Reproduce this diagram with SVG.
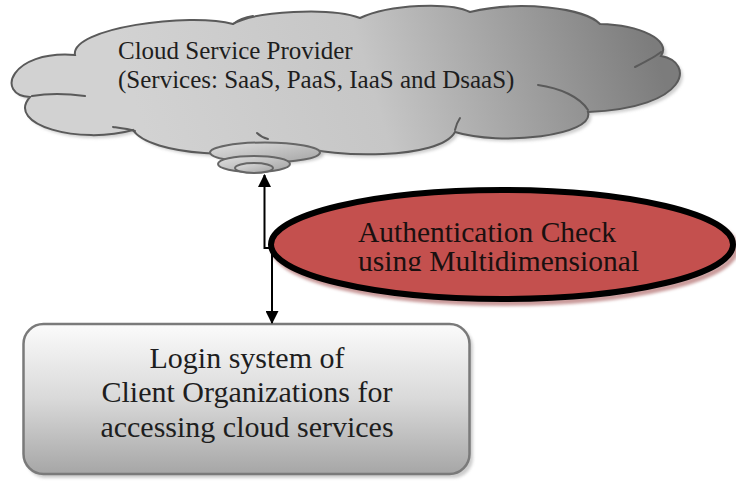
<svg xmlns="http://www.w3.org/2000/svg" width="736" height="481" viewBox="0 0 736 481">
  <defs>
    <style>
      .serif { font-family: "Liberation Serif", "Times New Roman", serif; }
      .cloudText { font-size: 25px; fill: #1e1e1e; }
      .boxText { font-size: 30px; fill: #1e1e1e; text-anchor: middle; }
      .ellText { font-size: 29.5px; fill: #1a1010; }
      .cloudLine { fill: none; stroke: #5a5a5a; stroke-width: 2; stroke-linecap: round; }
      .conn { fill: none; stroke: #000; stroke-width: 2; }
    </style>
    <linearGradient id="cloudFill" gradientUnits="userSpaceOnUse" x1="150" y1="150" x2="640" y2="0">
      <stop offset="0" stop-color="#d2d2d2"/>
      <stop offset="0.45" stop-color="#c6c6c6"/>
      <stop offset="1" stop-color="#7c7c7c"/>
    </linearGradient>
    <linearGradient id="bubbleFill" x1="0" y1="0" x2="1" y2="1">
      <stop offset="0" stop-color="#e0e0e0"/>
      <stop offset="1" stop-color="#a4a4a4"/>
    </linearGradient>
    <linearGradient id="boxFill" x1="0" y1="0" x2="0" y2="1">
      <stop offset="0" stop-color="#fbfbfb"/>
      <stop offset="0.5" stop-color="#d9d9d9"/>
      <stop offset="1" stop-color="#a6a6a6"/>
    </linearGradient>
    <filter id="soft" x="-5%" y="-10%" width="110%" height="120%">
      <feGaussianBlur stdDeviation="1.5"/>
    </filter>
    <clipPath id="ellTextClip">
      <rect x="300" y="200" width="400" height="71"/>
    </clipPath>
    <marker id="arrow" viewBox="0 0 12 12" refX="11" refY="6" markerWidth="13" markerHeight="13" markerUnits="userSpaceOnUse" orient="auto">
      <path d="M0,0 L12,6 L0,12 Z" fill="#000"/>
    </marker>
    <path id="cloudShape" d="M30,97 C-5,95 10,50 75,55 C70,28 190,12 233,24 C255,11 330,7 360,18 C390,4 450,2 470,12 C520,0 585,8 600,24 C640,25 672,40 661,56 C695,62 690,108 588,112 C595,136 500,146 455,132 C440,160 330,158 300,146 C250,160 150,156 133,130 C80,145 5,125 30,97 Z"/>
  </defs>

  <rect width="736" height="481" fill="#ffffff"/>

  <!-- Cloud service provider -->
  <g id="cloud">
    <use href="#cloudShape" transform="translate(3,3)" fill="#b0b0b0" opacity="0.6" filter="url(#soft)"/>
    <use href="#cloudShape" fill="url(#cloudFill)" stroke="#5a5a5a" stroke-width="2"/>
    <path class="cloudLine" d="M32,96 C50,93 70,94 85,96"/>
    <path class="cloudLine" d="M113,127 C120,128 128,129 135,131"/>
    <path class="cloudLine" d="M233,24 C238,20 246,17 253,16"/>
    <path class="cloudLine" d="M538,85 C560,88 580,97 588,110"/>
    <path class="cloudLine" d="M635,67 C645,62 655,57 661,52"/>
    <path class="cloudLine" d="M455,130 C456,125 458,121 460,118"/>
    <path class="cloudLine" d="M257,133 C260,136 264,138 268,139"/>
    <!-- thought-bubble tail -->
    <ellipse cx="267" cy="152.5" rx="55" ry="10" fill="#9a9a9a" opacity="0.5" filter="url(#soft)" transform="translate(2,2)"/>
    <ellipse cx="265" cy="152.5" rx="55" ry="10" fill="url(#bubbleFill)" stroke="#666" stroke-width="2"/>
    <ellipse cx="254" cy="164" rx="36" ry="8" fill="url(#bubbleFill)" stroke="#666" stroke-width="2"/>
    <ellipse cx="254" cy="168" rx="19" ry="5" fill="url(#bubbleFill)" stroke="#666" stroke-width="2"/>
    <text class="serif cloudText" x="118" y="59">Cloud Service Provider</text>
    <text class="serif cloudText" x="118" y="88">(Services: SaaS, PaaS, IaaS and DsaaS)</text>
  </g>

  <!-- Authentication check -->
  <g id="auth">
    <ellipse cx="505" cy="248.5" rx="231" ry="54.5" fill="none" stroke="#c99a9a" stroke-width="6" filter="url(#soft)"/>
    <ellipse cx="502" cy="244.5" rx="231" ry="54.5" fill="#c4504e" stroke="#000" stroke-width="6"/>
    <g clip-path="url(#ellTextClip)">
      <text class="serif ellText" x="358" y="242">Authentication Check<tspan x="358" y="270.5">using Multidimensional</tspan></text>
    </g>
  </g>

  <!-- Login system -->
  <g id="login">
    <rect x="26" y="327" width="447" height="151" rx="20" fill="#b8b8b8" opacity="0.7" filter="url(#soft)"/>
    <rect x="23.5" y="324" width="446" height="150" rx="20" fill="url(#boxFill)" stroke="#7a7a7a" stroke-width="2.5"/>
    <text class="serif boxText" x="247" y="368">Login system of</text>
    <text class="serif boxText" x="247" y="402">Client Organizations for</text>
    <text class="serif boxText" x="247" y="437">accessing cloud services</text>
  </g>

  <!-- Connectors -->
  <g id="connectors">
    <path class="conn" d="M270,248 H264.5 V175" marker-end="url(#arrow)"/>
    <path class="conn" d="M272,250 V323" marker-end="url(#arrow)"/>
  </g>
</svg>
